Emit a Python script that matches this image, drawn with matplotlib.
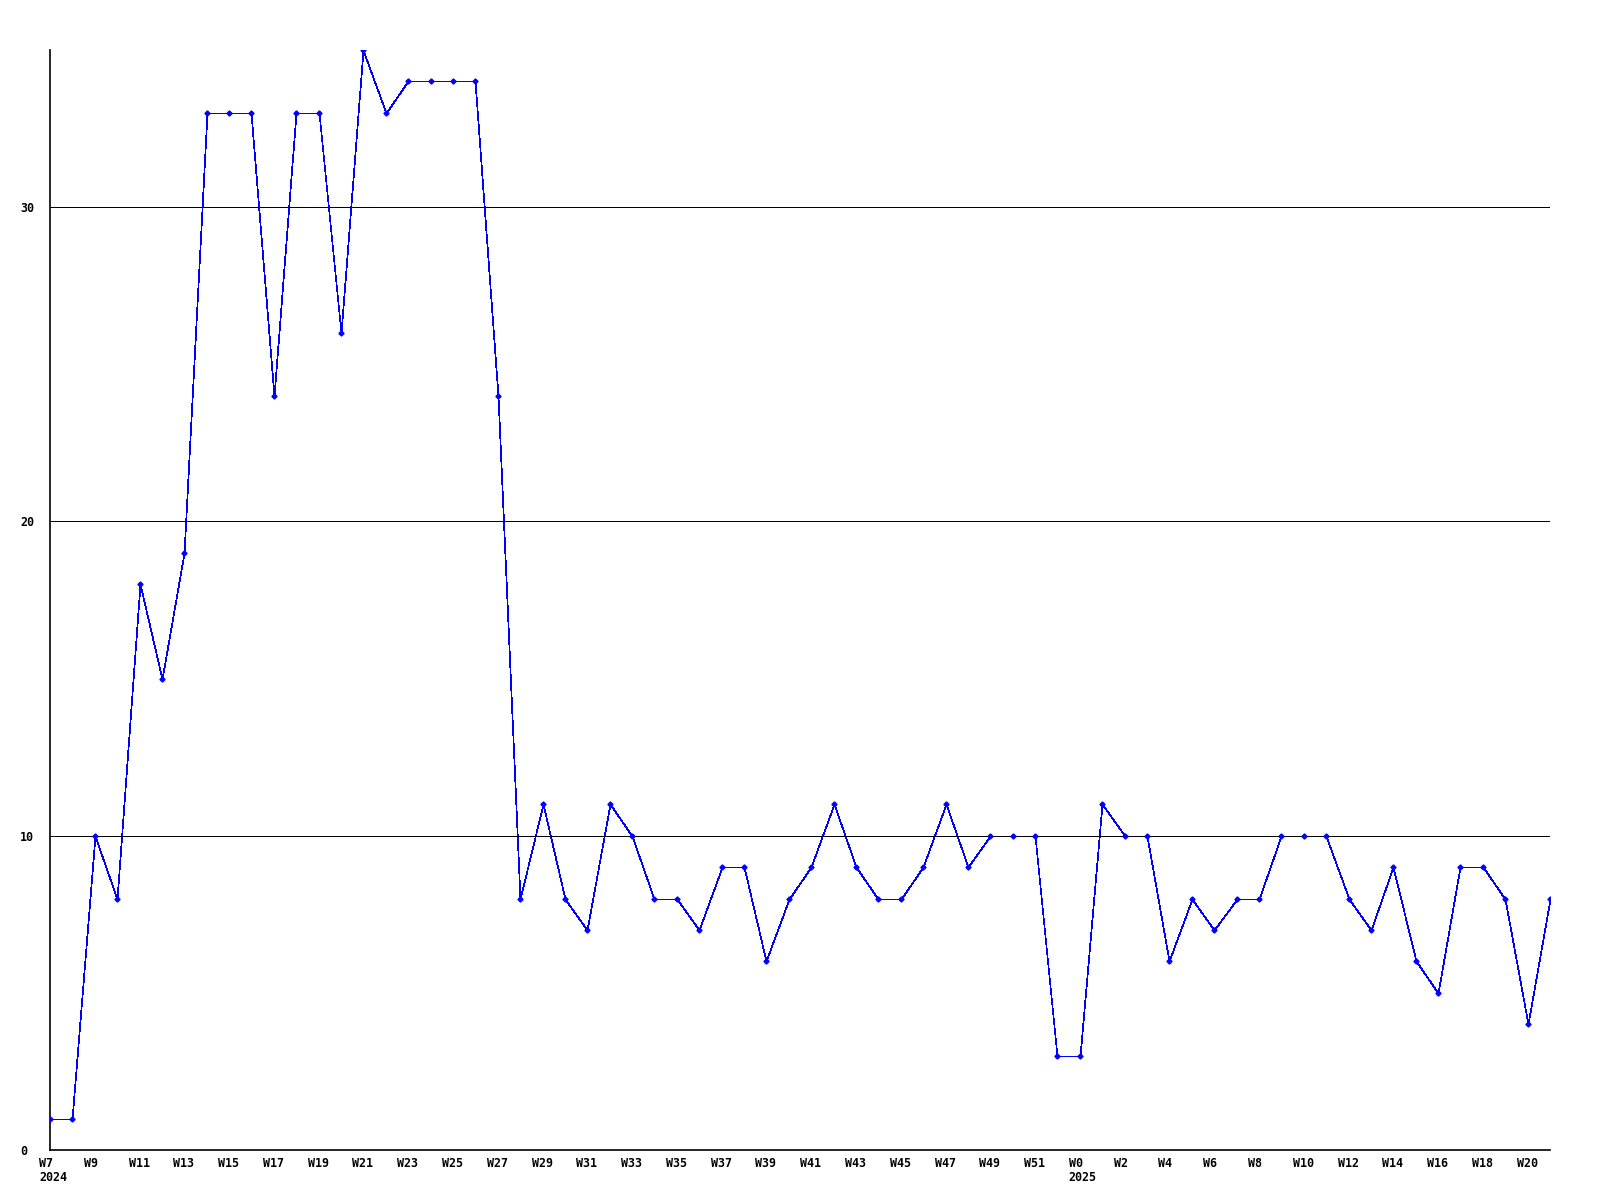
import numpy as np
import matplotlib
matplotlib.use("Agg")
import matplotlib.pyplot as plt
from matplotlib.transforms import ScaledTranslation

# weekly counts, W7 2024 .. W21 2025
weeks_2024 = ["W%d" % w for w in range(7, 53)]
weeks_2025 = ["W%d" % w for w in range(0, 22)]
values_2024 = [1, 1, 10, 8, 18, 15, 19, 33, 33, 33, 24, 33, 33, 26, 35, 33, 34, 34, 34, 34,
               24, 8, 11, 8, 7, 11, 10, 8, 8, 7, 9, 9, 6, 8, 9, 11, 9, 8, 8, 9,
               11, 9, 10, 10, 10, 3]
values_2025 = [3, 11, 10, 10, 6, 8, 7, 8, 8, 10, 10, 10, 8, 7, 9, 6, 5, 9, 9, 8, 4, 8]
y_ticks = [0, 10, 20, 30]

weeks = weeks_2024 + weeks_2025
values = values_2024 + values_2025
x = np.arange(len(values))

fig = plt.figure(figsize=(16, 12), dpi=100)
ax = fig.add_axes([50 / 1600, 50 / 1200, 1500 / 1600, 1100 / 1200])

px = 72 / 100  # one pixel in points
ax.plot(x, values, color="#0000ff", lw=0.5, zorder=1, clip_on=False,
        antialiased=False, snap=True)
# grid sits on top of the data line, like the original
for t in y_ticks[1:]:
    ax.axhline(t, color="black", lw=px, zorder=2, antialiased=False, snap=True)
ax.plot(x, values, ls="none", marker="D", ms=2.6, color="#0000ff", zorder=3, clip_on=True)

ax.set_xlim(0, len(values) - 1)
ax.set_ylim(0, 35)

for s in ["top", "right"]:
    ax.spines[s].set_visible(False)
for s in ["left", "bottom"]:
    ax.spines[s].set_linewidth(1.2)

font = dict(family="DejaVu Sans Mono", weight="bold", size=8.4)

ax.set_yticks(y_ticks)
ax.set_yticklabels([str(t) for t in y_ticks], **font)
ax.tick_params(axis="y", length=0, pad=21.6)
for lab in ax.get_yticklabels():
    lab.set_horizontalalignment("left")

ticks = list(range(0, len(weeks), 2))
labels = []
for i in ticks:
    if i == 0:
        labels.append(weeks[i] + "\n2024")
    elif weeks[i] == "W0":
        labels.append(weeks[i] + "\n2025")
    else:
        labels.append(weeks[i])
ax.set_xticks(ticks)
ax.set_xticklabels(labels, linespacing=1.15, **font)
ax.tick_params(axis="x", length=0, pad=5)
off = ScaledTranslation(-11 / 100, 0, fig.dpi_scale_trans)
for lab in ax.get_xticklabels():
    lab.set_horizontalalignment("left")
    lab.set_verticalalignment("top")
    lab.set_transform(lab.get_transform() + off)

fig.savefig("out.png", dpi=100)
